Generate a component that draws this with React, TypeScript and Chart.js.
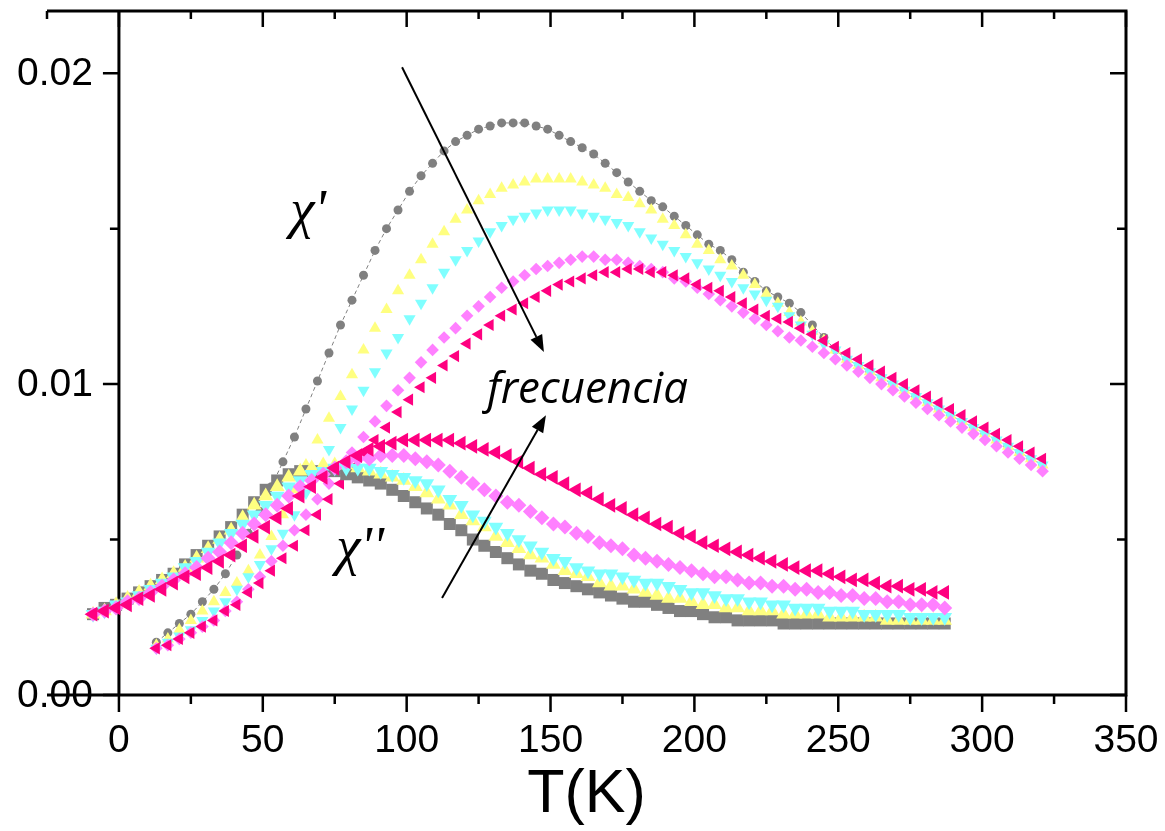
import React, { useEffect, useRef } from 'react';
import { Chart, registerables } from 'chart.js';

Chart.register(...registerables);

// ---------- DATA ----------
// Temperatures (K) of the real-part (chi') measurements
const T_REAL = [
  13, 17, 21, 25, 29, 33, 37, 41, 45, 49,
  53, 57, 61, 65, 69, 73, 77, 81, 85, 89,
  93, 97, 101, 105, 109, 113, 117, 121, 125, 129,
  133, 137, 141, 145, 149, 153, 157, 161, 165, 169,
  173, 177, 181, 185, 189, 193, 197, 201, 205, 209,
  213, 217, 221, 225, 229, 233, 237, 241, 245, 249,
  253, 257, 261, 265, 269, 273, 277, 281, 285, 289,
  293, 297, 301, 305, 309, 313, 317, 321,
];

const CHI_REAL_GRAY = [
  0.0017, 0.0020, 0.0023, 0.0026, 0.0030, 0.0034, 0.0039, 0.0045, 0.0052, 0.0059,
  0.0067, 0.0075, 0.0083, 0.0092, 0.0101, 0.0110, 0.0119, 0.0127, 0.0135, 0.0143,
  0.0150, 0.0156, 0.0162, 0.0167, 0.0171, 0.0175, 0.0178, 0.0180, 0.0182, 0.0183,
  0.0184, 0.0184, 0.0184, 0.0183, 0.0182, 0.0180, 0.0178, 0.0176, 0.0174, 0.0171,
  0.0168, 0.0165, 0.0162, 0.0159, 0.0157, 0.0154, 0.0151, 0.0148, 0.0145, 0.0143,
  0.0140, 0.0136, 0.0133, 0.0130, 0.0128, 0.0126, 0.0123, 0.0119, 0.0115, 0.0111,
  0.0108, 0.0106, 0.0104, 0.0102, 0.0100, 0.0098, 0.0096, 0.0094, 0.0092, 0.0090,
  0.0088, 0.0086, 0.0084, 0.0082, 0.0080, 0.0078, 0.0076, 0.0074,
];

const CHI_REAL_YELLOW = [
  0.0016, 0.0018, 0.0021, 0.0024, 0.0027, 0.0030, 0.0033, 0.0036, 0.0040, 0.0045,
  0.0051, 0.0058, 0.0066, 0.0074, 0.0082, 0.0089, 0.0096, 0.0103, 0.0111, 0.0118,
  0.0124, 0.0130, 0.0135, 0.0140, 0.0145, 0.0149, 0.0153, 0.0156, 0.0159, 0.0161,
  0.0163, 0.0164, 0.0165, 0.0166, 0.0166, 0.0166, 0.0166, 0.0165, 0.0164, 0.0163,
  0.0161, 0.0160, 0.0158, 0.0156, 0.0153, 0.0151, 0.0148, 0.0145, 0.0143, 0.0140,
  0.0138, 0.0135, 0.0132, 0.0129, 0.0126, 0.0123, 0.0120, 0.0117, 0.0114, 0.0111,
  0.0108, 0.0106, 0.0104, 0.0102, 0.0100, 0.0098, 0.0096, 0.0094, 0.0092, 0.0090,
  0.0088, 0.0086, 0.0084, 0.0082, 0.0080, 0.0078, 0.0076, 0.0074,
];

const CHI_REAL_CYAN = [
  0.0015, 0.0017, 0.0019, 0.0021, 0.0024, 0.0027, 0.0030, 0.0034, 0.0038, 0.0042,
  0.0047, 0.0052, 0.0058, 0.0065, 0.0072, 0.0079, 0.0086, 0.0092, 0.0098, 0.0104,
  0.0110, 0.0115, 0.0121, 0.0126, 0.0131, 0.0136, 0.0140, 0.0143, 0.0146, 0.0149,
  0.0151, 0.0153, 0.0154, 0.0155, 0.0156, 0.0156, 0.0156, 0.0155, 0.0154, 0.0153,
  0.0152, 0.0151, 0.0149, 0.0147, 0.0145, 0.0143, 0.0141, 0.0139, 0.0137, 0.0135,
  0.0133, 0.0131, 0.0129, 0.0127, 0.0125, 0.0122, 0.0119, 0.0116, 0.0113, 0.0111,
  0.0108, 0.0106, 0.0104, 0.0102, 0.0100, 0.0098, 0.0096, 0.0094, 0.0092, 0.0090,
  0.0088, 0.0086, 0.0084, 0.0082, 0.0080, 0.0078, 0.0076, 0.0074,
];

const CHI_REAL_MAGENTA = [
  0.0015, 0.0016, 0.0018, 0.0020, 0.0022, 0.0024, 0.0027, 0.0030, 0.0034, 0.0038,
  0.0043, 0.0048, 0.0053, 0.0058, 0.0063, 0.0068, 0.0073, 0.0078, 0.0083, 0.0088,
  0.0093, 0.0098, 0.0102, 0.0107, 0.0111, 0.0115, 0.0118, 0.0122, 0.0125, 0.0128,
  0.0131, 0.0133, 0.0135, 0.0137, 0.0138, 0.0139, 0.0140, 0.0141, 0.0141, 0.0140,
  0.0140, 0.0139, 0.0138, 0.0137, 0.0136, 0.0134, 0.0133, 0.0131, 0.0129, 0.0127,
  0.0125, 0.0123, 0.0121, 0.0119, 0.0117, 0.0115, 0.0114, 0.0112, 0.0110, 0.0108,
  0.0106, 0.0104, 0.0102, 0.0100, 0.0098, 0.0096, 0.0094, 0.0092, 0.0090, 0.0088,
  0.0086, 0.0084, 0.0082, 0.0080, 0.0078, 0.0076, 0.0074, 0.0072,
];

const CHI_REAL_PINK = [
  0.0015, 0.0016, 0.0018, 0.0020, 0.0022, 0.0024, 0.0027, 0.0029, 0.0033, 0.0036,
  0.0040, 0.0044, 0.0048, 0.0053, 0.0058, 0.0063, 0.0068, 0.0073, 0.0078, 0.0082,
  0.0086, 0.0091, 0.0095, 0.0099, 0.0102, 0.0106, 0.0109, 0.0113, 0.0116, 0.0119,
  0.0122, 0.0124, 0.0126, 0.0128, 0.0130, 0.0132, 0.0133, 0.0134, 0.0135, 0.0136,
  0.0136, 0.0137, 0.0137, 0.0136, 0.0136, 0.0135, 0.0134, 0.0132, 0.0131, 0.0130,
  0.0128, 0.0126, 0.0124, 0.0122, 0.0121, 0.0120, 0.0118, 0.0116, 0.0114, 0.0112,
  0.0110, 0.0108, 0.0106, 0.0104, 0.0102, 0.0100, 0.0098, 0.0096, 0.0094, 0.0092,
  0.0090, 0.0088, 0.0086, 0.0084, 0.0082, 0.0080, 0.0078, 0.0076,
];

// Temperatures (K) of the imaginary-part (chi'') measurements
const T_IMAG = [
  -9, -5, -1, 3, 7, 11, 15, 19, 23, 27,
  31, 35, 39, 43, 47, 51, 55, 59, 63, 67,
  71, 75, 79, 83, 87, 91, 95, 99, 103, 107,
  111, 115, 119, 123, 127, 131, 135, 139, 143, 147,
  151, 155, 159, 163, 167, 171, 175, 179, 183, 187,
  191, 195, 199, 203, 207, 211, 215, 219, 223, 227,
  231, 235, 239, 243, 247, 251, 255, 259, 263, 267,
  271, 275, 279, 283, 287,
];

const CHI_IMAG_GRAY = [
  0.0026, 0.0028, 0.0029, 0.0031, 0.0033, 0.0035, 0.0037, 0.0039, 0.0042, 0.0045,
  0.0048, 0.0051, 0.0054, 0.0058, 0.0062, 0.0066, 0.0069, 0.0071, 0.0072, 0.0072,
  0.0072, 0.0072, 0.0071, 0.0070, 0.0069, 0.0068, 0.0066, 0.0064, 0.0062, 0.0060,
  0.0058, 0.0055, 0.0053, 0.0050, 0.0048, 0.0046, 0.0044, 0.0042, 0.0040, 0.0039,
  0.0037, 0.0036, 0.0035, 0.0034, 0.0033, 0.0032, 0.0031, 0.0030, 0.0030, 0.0029,
  0.0028, 0.0027, 0.0027, 0.0026, 0.0025, 0.0025, 0.0024, 0.0024, 0.0024, 0.0024,
  0.0023, 0.0023, 0.0023, 0.0023, 0.0023, 0.0023, 0.0023, 0.0023, 0.0023, 0.0023,
  0.0023, 0.0023, 0.0023, 0.0023, 0.0023,
];

const CHI_IMAG_YELLOW = [
  0.0026, 0.0027, 0.0029, 0.0031, 0.0033, 0.0035, 0.0037, 0.0039, 0.0041, 0.0044,
  0.0047, 0.0050, 0.0053, 0.0057, 0.0061, 0.0064, 0.0067, 0.0070, 0.0072, 0.0073,
  0.0074, 0.0074, 0.0074, 0.0073, 0.0072, 0.0071, 0.0070, 0.0069, 0.0067, 0.0065,
  0.0063, 0.0061, 0.0058, 0.0056, 0.0054, 0.0051, 0.0049, 0.0047, 0.0045, 0.0044,
  0.0042, 0.0040, 0.0039, 0.0038, 0.0036, 0.0035, 0.0035, 0.0034, 0.0033, 0.0032,
  0.0031, 0.0031, 0.0030, 0.0029, 0.0029, 0.0028, 0.0028, 0.0027, 0.0027, 0.0027,
  0.0026, 0.0026, 0.0026, 0.0026, 0.0025, 0.0025, 0.0025, 0.0025, 0.0025, 0.0024,
  0.0024, 0.0024, 0.0024, 0.0024, 0.0024,
];

const CHI_IMAG_CYAN = [
  0.0026, 0.0027, 0.0029, 0.0030, 0.0032, 0.0034, 0.0036, 0.0038, 0.0041, 0.0043,
  0.0046, 0.0049, 0.0052, 0.0055, 0.0058, 0.0061, 0.0064, 0.0067, 0.0069, 0.0071,
  0.0072, 0.0073, 0.0073, 0.0073, 0.0073, 0.0072, 0.0071, 0.0070, 0.0069, 0.0068,
  0.0066, 0.0063, 0.0061, 0.0058, 0.0056, 0.0054, 0.0052, 0.0050, 0.0048, 0.0046,
  0.0044, 0.0043, 0.0041, 0.0040, 0.0039, 0.0039, 0.0038, 0.0037, 0.0036, 0.0036,
  0.0035, 0.0034, 0.0033, 0.0033, 0.0032, 0.0031, 0.0031, 0.0030, 0.0030, 0.0029,
  0.0029, 0.0028, 0.0028, 0.0028, 0.0027, 0.0027, 0.0027, 0.0026, 0.0026, 0.0026,
  0.0026, 0.0025, 0.0025, 0.0025, 0.0025,
];

const CHI_IMAG_MAGENTA = [
  0.0026, 0.0027, 0.0028, 0.0030, 0.0031, 0.0033, 0.0035, 0.0037, 0.0039, 0.0041,
  0.0044, 0.0046, 0.0049, 0.0052, 0.0055, 0.0058, 0.0061, 0.0064, 0.0067, 0.0069,
  0.0071, 0.0073, 0.0075, 0.0076, 0.0076, 0.0077, 0.0077, 0.0077, 0.0076, 0.0075,
  0.0074, 0.0072, 0.0070, 0.0068, 0.0066, 0.0064, 0.0062, 0.0061, 0.0059, 0.0057,
  0.0055, 0.0054, 0.0052, 0.0051, 0.0049, 0.0048, 0.0047, 0.0045, 0.0044, 0.0043,
  0.0042, 0.0041, 0.0040, 0.0039, 0.0038, 0.0038, 0.0037, 0.0036, 0.0036, 0.0035,
  0.0035, 0.0034, 0.0034, 0.0033, 0.0033, 0.0032, 0.0032, 0.0031, 0.0031, 0.0030,
  0.0030, 0.0029, 0.0029, 0.0029, 0.0028,
];

const CHI_IMAG_PINK = [
  0.0026, 0.0027, 0.0028, 0.0029, 0.0031, 0.0032, 0.0034, 0.0036, 0.0038, 0.0039,
  0.0041, 0.0043, 0.0045, 0.0048, 0.0051, 0.0054, 0.0057, 0.0060, 0.0064, 0.0067,
  0.0070, 0.0073, 0.0075, 0.0077, 0.0079, 0.0080, 0.0081, 0.0082, 0.0082, 0.0082,
  0.0082, 0.0082, 0.0081, 0.0080, 0.0079, 0.0078, 0.0077, 0.0075, 0.0073, 0.0071,
  0.0070, 0.0068, 0.0066, 0.0065, 0.0063, 0.0061, 0.0060, 0.0058, 0.0057, 0.0055,
  0.0054, 0.0052, 0.0051, 0.0049, 0.0048, 0.0047, 0.0046, 0.0045, 0.0044, 0.0043,
  0.0042, 0.0041, 0.0040, 0.0040, 0.0039, 0.0038, 0.0037, 0.0037, 0.0036, 0.0035,
  0.0035, 0.0034, 0.0034, 0.0033, 0.0033,
];

// Axis ticks and labels
const X_MAJOR_TICKS = [0, 50, 100, 150, 200, 250, 300, 350];
const X_TICK_LABELS = ['0', '50', '100', '150', '200', '250', '300', '350'];
const X_MINOR_TICKS = [-25, 25, 75, 125, 175, 225, 275, 325];
const Y_MAJOR_TICKS = [0, 0.01, 0.02];
const Y_TICK_LABELS = ['0.00', '0.01', '0.02'];
const Y_MINOR_TICKS = [0.005, 0.015];
const X_TITLE = 'T(K)';
const LABEL_CHI_REAL = "χ'";
const LABEL_CHI_IMAG = "χ''";
const LABEL_FREQ = 'frecuencia';

// ---------- STYLE / LAYOUT ----------
const COLORS = {
  gray: '#808080',
  yellow: '#FFFF80',
  cyan: '#80FFFF',
  magenta: '#FF80FF',
  pink: '#FF0080',
};

// annotation anchors in data coordinates (x: K, y: chi)
const ANNOT = {
  chiReal: { x: 59.5, y: 0.01505 },
  chiImag: { x: 75.5, y: 0.00420 },
  freq: { x: 127.9, y: 0.00939 },
  arrowDown: { x1: 98.4, y1: 0.02019, x2: 147.7, y2: 0.01103 },
  arrowUp: { x1: 112.3, y1: 0.00312, x2: 148.4, y2: 0.0090 },
};

const toPoints = (T: number[], V: number[]) => T.map((t, i) => ({ x: t, y: V[i] }));

function drawArrow(ctx: CanvasRenderingContext2D, x1: number, y1: number, x2: number, y2: number) {
  const headLen = 17;
  const headHalf = 6.5;
  const ang = Math.atan2(y2 - y1, x2 - x1);
  const bx = x2 - Math.cos(ang) * headLen;
  const by = y2 - Math.sin(ang) * headLen;
  ctx.beginPath();
  ctx.moveTo(x1, y1);
  ctx.lineTo(bx, by);
  ctx.lineWidth = 2;
  ctx.strokeStyle = '#000';
  ctx.stroke();
  ctx.beginPath();
  ctx.moveTo(x2, y2);
  ctx.lineTo(bx + Math.sin(ang) * headHalf, by - Math.cos(ang) * headHalf);
  ctx.lineTo(bx - Math.sin(ang) * headHalf, by + Math.cos(ang) * headHalf);
  ctx.closePath();
  ctx.fillStyle = '#000';
  ctx.fill();
}

const framePlugin = {
  id: 'originFrame',
  beforeDatasetsDraw(chart: any) {
    const { ctx, chartArea: a, scales } = chart;
    const xs = scales.x;
    const ys = scales.y;
    const x0 = xs.getPixelForValue(0);
    ctx.save();
    ctx.fillStyle = '#000';
    ctx.textBaseline = 'alphabetic';
    ctx.font = '39px "Liberation Sans", Arial, sans-serif';
    ctx.textAlign = 'center';
    X_MAJOR_TICKS.forEach((v, i) => {
      ctx.fillText(X_TICK_LABELS[i], xs.getPixelForValue(v), a.bottom + 57);
    });
    ctx.textAlign = 'right';
    Y_MAJOR_TICKS.forEach((v, i) => {
      ctx.fillText(Y_TICK_LABELS[i], x0 - 26, ys.getPixelForValue(v) + 12);
    });
    ctx.textAlign = 'center';
    ctx.font = '61px "Liberation Sans", Arial, sans-serif';
    ctx.fillText(X_TITLE, (a.left + a.right) / 2, a.bottom + 117);

    // frame lines
    ctx.strokeStyle = '#000';
    ctx.lineWidth = 3;
    ctx.lineJoin = 'miter';
    ctx.beginPath();
    ctx.moveTo(a.left, a.top);
    ctx.lineTo(a.right, a.top);
    ctx.lineTo(a.right, a.bottom);
    ctx.lineTo(a.left, a.bottom);
    ctx.moveTo(x0, a.top);
    ctx.lineTo(x0, a.bottom);
    ctx.stroke();

    // ticks
    ctx.lineWidth = 2.5;
    ctx.beginPath();
    X_MAJOR_TICKS.forEach((v) => {
      const px = xs.getPixelForValue(v);
      ctx.moveTo(px, a.bottom);
      ctx.lineTo(px, a.bottom + 17);
      ctx.moveTo(px, a.top);
      ctx.lineTo(px, a.top + 16);
    });
    X_MINOR_TICKS.forEach((v) => {
      const px = xs.getPixelForValue(v);
      if (v > 0) {
        ctx.moveTo(px, a.bottom);
        ctx.lineTo(px, a.bottom + 9);
      }
      ctx.moveTo(px, a.top);
      ctx.lineTo(px, a.top + 8);
    });
    Y_MAJOR_TICKS.forEach((v) => {
      const py = ys.getPixelForValue(v);
      ctx.moveTo(x0 - 16, py);
      ctx.lineTo(x0, py);
      ctx.moveTo(a.right - 16, py);
      ctx.lineTo(a.right, py);
    });
    Y_MINOR_TICKS.forEach((v) => {
      const py = ys.getPixelForValue(v);
      ctx.moveTo(x0 - 9, py);
      ctx.lineTo(x0, py);
      ctx.moveTo(a.right - 9, py);
      ctx.lineTo(a.right, py);
    });
    ctx.stroke();
    ctx.restore();
  },
  afterDatasetsDraw(chart: any) {
    const { ctx, scales } = chart;
    const xs = scales.x;
    const ys = scales.y;
    const px = (v: number) => xs.getPixelForValue(v);
    const py = (v: number) => ys.getPixelForValue(v);
    ctx.save();
    ctx.fillStyle = '#000';
    ctx.textAlign = 'left';
    ctx.textBaseline = 'alphabetic';
    ctx.font = 'italic 55px "Liberation Serif", "DejaVu Serif", serif';
    ctx.fillText(LABEL_CHI_REAL, px(ANNOT.chiReal.x), py(ANNOT.chiReal.y));
    ctx.fillText(LABEL_CHI_IMAG, px(ANNOT.chiImag.x), py(ANNOT.chiImag.y));

    ctx.font = 'italic 40px "Open Sans", "Noto Sans", sans-serif';
    const w = ctx.measureText(LABEL_FREQ).width;
    const size = (40 * 201) / w;
    ctx.font = `italic ${size.toFixed(1)}px "Open Sans", "Noto Sans", sans-serif`;
    ctx.fillText(LABEL_FREQ, px(ANNOT.freq.x), py(ANNOT.freq.y));

    const a1 = ANNOT.arrowDown;
    drawArrow(ctx, px(a1.x1), py(a1.y1), px(a1.x2), py(a1.y2));
    const a2 = ANNOT.arrowUp;
    drawArrow(ctx, px(a2.x1), py(a2.y1), px(a2.x2), py(a2.y2));
    ctx.restore();
  },
};

export default function App() {
  const canvasRef = useRef<HTMLCanvasElement | null>(null);

  useEffect(() => {
    if (!canvasRef.current) return;
    const pt = (color: string, style: string, radius: number, rotation = 0) => ({
      backgroundColor: color,
      borderColor: color,
      pointBackgroundColor: color,
      pointBorderColor: color,
      pointBorderWidth: 0,
      pointStyle: style,
      pointRadius: radius,
      pointRotation: rotation,
      showLine: false,
    });

    // first dataset is drawn on top
    const datasets: any[] = [
      { label: "χ'' pink", data: toPoints(T_IMAG, CHI_IMAG_PINK), ...pt(COLORS.pink, 'triangle', 8.5, 270) },
      { label: "χ'' magenta", data: toPoints(T_IMAG, CHI_IMAG_MAGENTA), ...pt(COLORS.magenta, 'rectRot', 7.5) },
      { label: "χ'' cyan", data: toPoints(T_IMAG, CHI_IMAG_CYAN), ...pt(COLORS.cyan, 'triangle', 8.5, 180) },
      { label: "χ'' yellow", data: toPoints(T_IMAG, CHI_IMAG_YELLOW), ...pt(COLORS.yellow, 'triangle', 8.5) },
      { label: "χ'' gray", data: toPoints(T_IMAG, CHI_IMAG_GRAY), ...pt(COLORS.gray, 'rect', 8.5) },
      { label: "χ' pink", data: toPoints(T_REAL, CHI_REAL_PINK), ...pt(COLORS.pink, 'triangle', 7, 270) },
      { label: "χ' magenta", data: toPoints(T_REAL, CHI_REAL_MAGENTA), ...pt(COLORS.magenta, 'rectRot', 6.3) },
      { label: "χ' cyan", data: toPoints(T_REAL, CHI_REAL_CYAN), ...pt(COLORS.cyan, 'triangle', 7, 180) },
      { label: "χ' yellow", data: toPoints(T_REAL, CHI_REAL_YELLOW), ...pt(COLORS.yellow, 'triangle', 7) },
      {
        label: "χ' gray",
        data: toPoints(T_REAL, CHI_REAL_GRAY),
        ...pt(COLORS.gray, 'circle', 4.5),
        showLine: true,
        borderWidth: 1,
        borderDash: [4, 3],
      },
    ];

    const chart = new Chart(canvasRef.current, {
      type: 'scatter',
      data: { datasets },
      options: {
        responsive: false,
        animation: false,
        devicePixelRatio: 1,
        layout: { padding: { left: 47, top: 11, right: 39, bottom: 136 }, autoPadding: false },
        plugins: { legend: { display: false }, tooltip: { enabled: false } },
        scales: {
          x: { type: 'linear', min: -25, max: 350, display: false },
          y: { type: 'linear', min: 0, max: 0.022, display: false },
        },
      } as any,
      plugins: [framePlugin],
    });
    return () => chart.destroy();
  }, []);

  return (
    <div style={{ position: 'absolute', left: 0, top: 0, width: 1165, height: 831, background: '#fff' }}>
      <canvas ref={canvasRef} width={1165} height={831} />
    </div>
  );
}
